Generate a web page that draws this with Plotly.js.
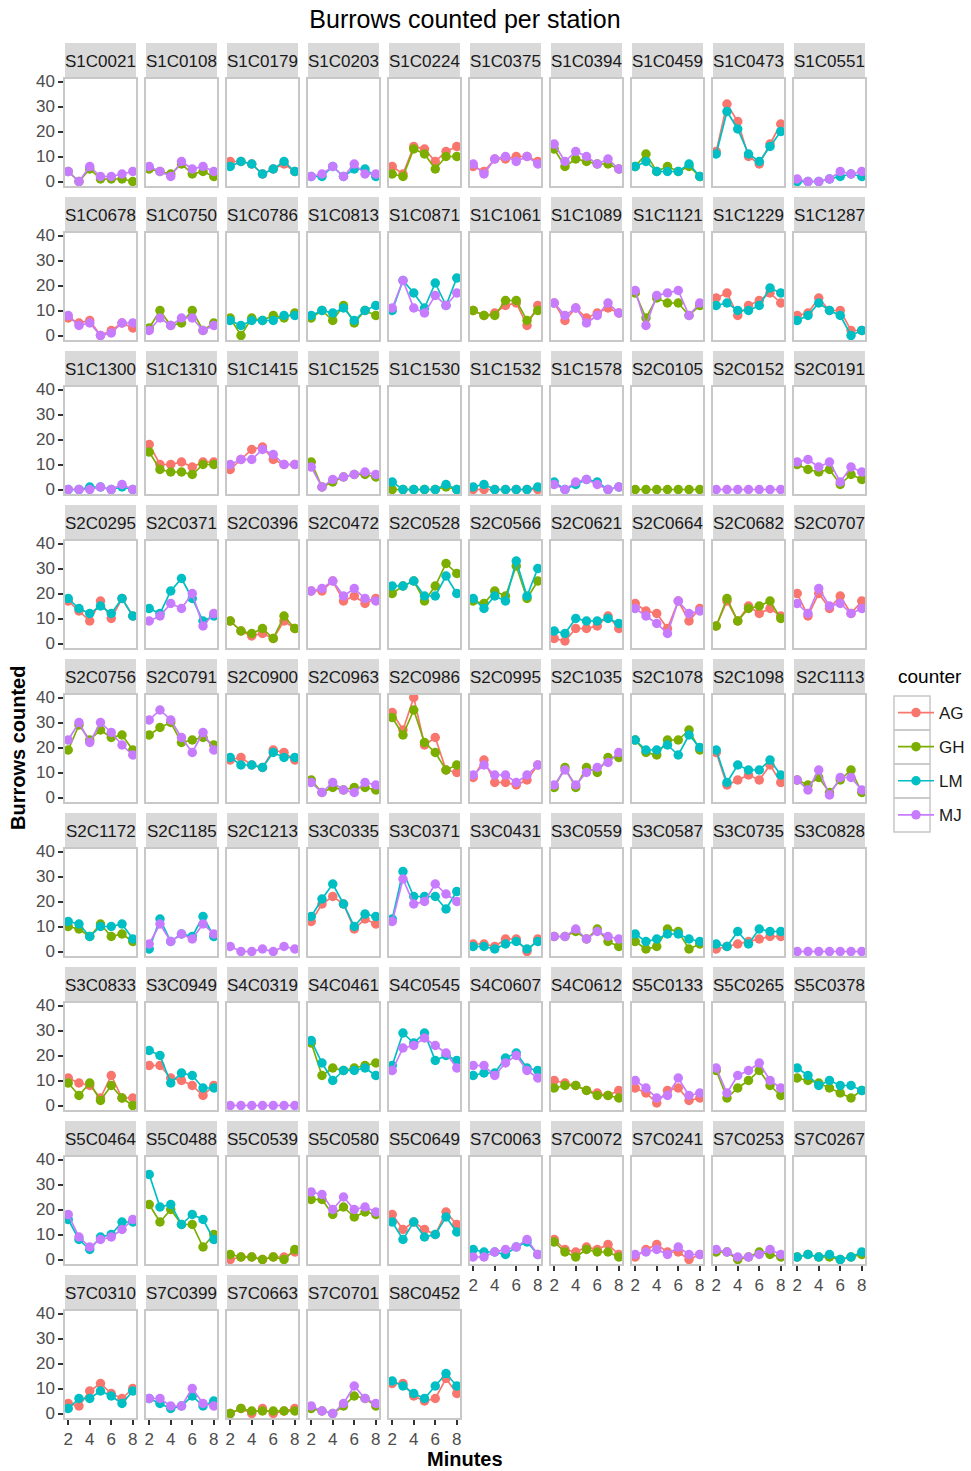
<!DOCTYPE html>
<html>
<head>
<meta charset="utf-8">
<script src="https://cdn.plot.ly/plotly-3.0.1.min.js"></script>
<style>html,body{margin:0;padding:0;background:#fff}#chart{width:971px;height:1471px}</style>
</head>
<body>
<div id="chart"></div>
<script>
const minutes = [2, 3, 4, 5, 6, 7, 8];
const counters = ['AG', 'GH', 'LM', 'MJ'];
const stations = [
  'S1C0021','S1C0108','S1C0179','S1C0203','S1C0224','S1C0375','S1C0394','S1C0459','S1C0473','S1C0551',
  'S1C0678','S1C0750','S1C0786','S1C0813','S1C0871','S1C1061','S1C1089','S1C1121','S1C1229','S1C1287',
  'S1C1300','S1C1310','S1C1415','S1C1525','S1C1530','S1C1532','S1C1578','S2C0105','S2C0152','S2C0191',
  'S2C0295','S2C0371','S2C0396','S2C0472','S2C0528','S2C0566','S2C0621','S2C0664','S2C0682','S2C0707',
  'S2C0756','S2C0791','S2C0900','S2C0963','S2C0986','S2C0995','S2C1035','S2C1078','S2C1098','S2C1113',
  'S2C1172','S2C1185','S2C1213','S3C0335','S3C0371','S3C0431','S3C0559','S3C0587','S3C0735','S3C0828',
  'S3C0833','S3C0949','S4C0319','S4C0461','S4C0545','S4C0607','S4C0612','S5C0133','S5C0265','S5C0378',
  'S5C0464','S5C0488','S5C0539','S5C0580','S5C0649','S7C0063','S7C0072','S7C0241','S7C0253','S7C0267',
  'S7C0310','S7C0399','S7C0663','S7C0701','S8C0452'
];

const AG = {
  S1C0179:[8,8,7,3,5,7,4], S1C0224:[6,3,14,13,8,12,14], S1C0375:[6,4,9,9,10,10,8],
  S1C0473:[12,31,24,10,7,15,23], S1C0678:[7,5,6,0,2,5,3], S1C1061:[10,8,9,12,13,4,12],
  S1C1089:[13,6,11,7,9,11,9], S1C1229:[15,17,8,12,14,17,13], S1C1287:[8,9,15,10,10,2,2],
  S1C1310:[18,10,10,11,9,11,11], S1C1415:[8,12,16,17,12,10,10], S1C1532:[0,0,0,0,0,0,0],
  S2C0295:[17,13,9,17,10,18,11], S2C0396:[9,5,3,4,2,9,6], S2C0472:[21,21,25,17,19,16,18],
  S2C0621:[2,1,6,6,7,11,6], S2C0664:[16,13,12,6,17,9,14], S2C0682:[7,17,9,15,12,14,11],
  S2C0707:[20,11,20,14,19,12,17], S2C0900:[15,16,13,12,19,18,15], S2C0986:[34,27,40,21,24,11,10],
  S2C0995:[8,15,6,6,5,7,13], S2C1098:[18,5,7,9,7,13,6], S3C0335:[12,19,22,19,9,13,11],
  S3C0431:[3,3,2,5,5,0,5], S3C0735:[1,2,3,4,5,6,6], S3C0833:[11,9,8,3,12,3,3],
  S3C0949:[16,16,11,10,8,4,8], S4C0612:[10,9,8,6,5,4,6], S5C0133:[7,5,1,6,7,2,3],
  S5C0539:[0,1,1,0,1,1,3], S5C0649:[18,12,15,12,10,19,14], S7C0072:[8,4,3,5,4,6,2],
  S7C0241:[1,4,6,3,3,0,2], S7C0310:[4,3,9,12,8,6,10], S7C0663:[0,2,0,2,0,1,2],
  S8C0452:[12,12,7,5,6,14,8]
};
const GH = {
  S1C0021:[4,0,5,1,1,1,0], S1C0108:[5,4,3,7,3,4,2], S1C0224:[3,2,13,11,5,10,10],
  S1C0394:[13,6,9,8,7,7,5], S1C0459:[6,11,4,6,4,6,2], S1C0750:[3,10,4,5,10,2,5],
  S1C0786:[7,0,7,6,8,7,9], S1C0813:[7,10,6,12,5,10,8], S1C1061:[10,8,8,14,14,6,10],
  S1C1121:[17,7,15,13,13,8,12], S1C1310:[15,8,7,7,6,10,10], S1C1525:[11,1,3,5,6,6,5],
  S1C1530:[0,0,0,0,0,1,0], S2C0105:[0,0,0,0,0,0,0], S2C0191:[10,8,7,8,2,6,4],
  S2C0396:[9,5,4,6,2,11,6], S2C0528:[20,23,25,17,23,32,28], S2C0566:[17,16,21,19,31,18,25],
  S2C0682:[7,18,9,14,15,17,10], S2C0756:[19,29,23,27,24,25,19], S2C0791:[25,28,30,22,23,24,21],
  S2C0963:[7,2,4,3,4,4,3], S2C0986:[32,25,35,22,18,11,13], S2C1035:[4,12,4,12,10,16,16],
  S2C1078:[23,18,17,23,23,27,19], S2C1113:[7,5,8,2,7,11,2], S2C1172:[10,9,6,11,6,7,4],
  S3C0559:[6,6,8,5,9,4,2], S3C0587:[4,1,2,9,8,1,3], S3C0833:[9,4,9,2,8,3,0],
  S4C0461:[25,12,15,14,15,16,17], S4C0612:[7,8,8,6,4,4,3], S5C0265:[14,3,7,10,14,8,4],
  S5C0378:[11,10,9,7,5,3,6], S5C0488:[22,15,20,14,14,5,10], S5C0539:[2,1,1,0,1,0,4],
  S5C0580:[24,24,18,21,17,19,18], S7C0072:[7,3,1,4,3,3,1], S7C0253:[3,3,0,1,3,2,1],
  S7C0267:[1,2,1,1,0,1,2], S7C0663:[0,2,1,1,1,1,1], S7C0701:[2,1,0,3,7,6,3]
};
const LM = {
  S1C0179:[6,8,7,3,5,8,4], S1C0203:[2,2,6,2,5,5,2], S1C0459:[6,8,4,4,4,7,2],
  S1C0473:[11,28,21,11,8,14,20], S1C0551:[0,0,0,1,2,3,2], S1C0786:[6,4,6,6,6,8,8],
  S1C0813:[8,10,9,11,6,10,12], S1C0871:[10,22,17,11,21,12,23], S1C1229:[12,13,10,10,12,19,17],
  S1C1287:[6,8,13,10,8,0,2], S1C1300:[0,0,1,1,0,1,0], S1C1530:[3,0,0,0,0,2,0],
  S1C1532:[1,2,0,0,0,0,1], S1C1578:[3,0,2,4,3,0,1], S2C0295:[18,14,12,15,12,18,11],
  S2C0371:[14,12,21,26,18,9,11], S2C0528:[23,23,25,19,19,27,20], S2C0566:[18,14,19,17,33,19,30],
  S2C0621:[5,4,10,9,9,10,8], S2C0900:[16,13,13,12,18,16,16], S2C1078:[23,19,19,21,17,25,20],
  S2C1098:[19,6,13,11,11,15,9], S2C1172:[12,11,6,10,10,11,5], S2C1185:[1,13,4,7,6,14,6],
  S3C0335:[14,21,27,19,10,15,14], S3C0371:[13,32,22,22,22,17,24], S3C0431:[2,2,1,3,4,1,4],
  S3C0587:[7,4,5,7,7,5,4], S3C0735:[3,2,8,3,9,8,8], S3C0949:[22,20,9,13,12,7,7],
  S4C0461:[26,17,10,14,14,15,12], S4C0545:[16,29,25,29,18,20,18], S4C0607:[12,13,13,19,21,15,14],
  S5C0378:[15,12,8,10,8,8,6], S5C0464:[16,8,4,9,10,15,15], S5C0488:[34,21,22,14,18,16,8],
  S5C0649:[15,8,15,9,10,17,11], S7C0063:[4,3,3,2,5,7,2], S7C0267:[1,2,1,2,0,1,3],
  S7C0310:[2,6,6,9,7,4,9], S7C0399:[6,4,2,3,7,3,5], S8C0452:[13,11,8,6,11,16,11]
};
const MJ = {
  S1C0021:[4,0,6,2,2,3,4], S1C0108:[6,4,2,8,5,6,4], S1C0203:[2,3,6,2,7,3,3],
  S1C0375:[7,3,9,10,8,10,7], S1C0394:[15,8,12,10,7,9,5], S1C0551:[1,0,0,1,4,3,4],
  S1C0678:[8,4,5,0,1,5,5], S1C0750:[2,7,4,7,7,2,4], S1C0871:[11,22,11,9,16,12,17],
  S1C1089:[13,8,11,5,8,13,9], S1C1121:[18,4,16,17,18,8,13], S1C1300:[0,0,0,1,0,2,0],
  S1C1415:[10,12,12,16,14,10,10], S1C1525:[9,1,4,5,6,7,6], S1C1578:[2,0,3,4,2,0,1],
  S2C0152:[0,0,0,0,0,0,0], S2C0191:[11,12,9,11,3,9,7], S2C0371:[9,11,16,14,20,7,12],
  S2C0472:[21,22,25,19,22,18,17], S2C0664:[14,11,8,4,17,12,13], S2C0707:[16,12,22,15,16,12,14],
  S2C0756:[23,30,22,30,26,21,17], S2C0791:[31,35,31,24,18,26,19], S2C0963:[6,2,6,3,2,6,5],
  S2C0995:[9,13,9,9,6,9,13], S2C1035:[5,11,5,10,12,14,18], S2C1113:[7,3,11,1,8,8,3],
  S2C1185:[3,11,4,7,5,11,7], S2C1213:[2,0,0,1,0,2,1], S3C0371:[12,29,19,20,27,23,20],
  S3C0559:[6,6,9,5,8,6,5], S3C0828:[0,0,0,0,0,0,0], S4C0319:[0,0,0,0,0,0,0],
  S4C0545:[14,23,24,27,24,21,15], S4C0607:[16,16,12,17,20,14,11], S5C0133:[10,7,3,4,11,4,5],
  S5C0265:[15,5,12,14,17,10,7], S5C0464:[18,9,5,8,9,12,16], S5C0580:[27,26,20,25,20,21,19],
  S7C0063:[1,1,3,4,5,8,2], S7C0241:[2,3,4,2,5,2,2], S7C0253:[4,3,1,1,2,4,2],
  S7C0399:[6,6,3,3,10,4,3], S7C0701:[3,1,0,4,11,6,4]
};
const seriesByCounter = {AG: AG, GH: GH, LM: LM, MJ: MJ};
const counterColors = {AG: '#F8766D', GH: '#7CAE00', LM: '#00BFC4', MJ: '#C77CFF'};
const xTicks = [2, 4, 6, 8];
const yTicks = [0, 10, 20, 30, 40];

// ---- layout geometry (pixels) ----
const W = 971, H = 1471;
const NCOL = 10;
const PANEL_LEFT = 65, PANEL_W = 71, COL_STEP = 81;
const PANEL_TOP = 79, PANEL_H = 107, ROW_STEP = 154, STRIP_H = 36;
const KEY_X0 = 894, KEY_X1 = 930, KEY_TOP = 696, KEY_H = 34;
const FONT = 'Liberation Sans, Arial, sans-serif';
const fx = p => p / W;
const fy = p => 1 - p / H;

const layout = {
  width: W, height: H,
  margin: {l: 0, r: 0, t: 0, b: 0, autoexpand: false},
  paper_bgcolor: '#ffffff', plot_bgcolor: '#ffffff',
  font: {family: FONT, color: '#000000'},
  showlegend: true,
  title: {text: 'Burrows counted per station', x: 465 / W, xanchor: 'center',
          y: 1 - 19 / H, yanchor: 'middle', font: {size: 25, color: '#000000', family: FONT}},
  legend: {x: 893 / W, xanchor: 'left', y: 1 - 695 / H, yanchor: 'top',
           font: {size: 17, color: '#1A1A1A', family: FONT},
           traceorder: 'grouped', tracegroupgap: 9, itemwidth: 36, bgcolor: 'rgba(0,0,0,0)'},
  shapes: [], annotations: []
};

const traces = [];
const shown = {};

stations.forEach((st, i) => {
  const r = Math.floor(i / NCOL), c = i % NCOL;
  const n = i + 1;
  const xk = n === 1 ? 'xaxis' : 'xaxis' + n;
  const yk = n === 1 ? 'yaxis' : 'yaxis' + n;
  const xr = n === 1 ? 'x' : 'x' + n;
  const yr = n === 1 ? 'y' : 'y' + n;
  const x0 = PANEL_LEFT + COL_STEP * c, x1 = x0 + PANEL_W;
  const yT = PANEL_TOP + ROW_STEP * r, yB = yT + PANEL_H;
  const bottom = (r === 8) || (r === 7 && c >= 5);
  const left = c === 0;

  layout[xk] = {
    domain: [fx(x0), fx(x1)], range: [1.7, 8.3], anchor: yr,
    showgrid: false, zeroline: false, showline: true, mirror: true,
    linecolor: '#C8C8C8', linewidth: 1.5,
    tickmode: 'array', tickvals: xTicks, ticktext: xTicks.map(String),
    ticks: bottom ? 'outside' : '', ticklen: 5, tickwidth: 2, tickcolor: '#333333',
    showticklabels: bottom, tickfont: {size: 17, color: '#4D4D4D', family: FONT},
    fixedrange: true
  };
  layout[yk] = {
    domain: [fy(yB), fy(yT)], range: [-1.8, 41], anchor: xr,
    showgrid: false, zeroline: false, showline: true, mirror: true,
    linecolor: '#C8C8C8', linewidth: 1.5,
    tickmode: 'array', tickvals: yTicks, ticktext: yTicks.map(String),
    ticks: left ? 'outside' : '', ticklen: 5, tickwidth: 2, tickcolor: '#333333',
    showticklabels: left, tickfont: {size: 17, color: '#4D4D4D', family: FONT},
    fixedrange: true
  };
  layout.shapes.push({type: 'rect', xref: 'paper', yref: 'paper',
    x0: fx(x0), x1: fx(x1), y0: fy(yT), y1: fy(yT - STRIP_H),
    fillcolor: '#D9D9D9', line: {width: 0}, layer: 'below'});
  layout.annotations.push({text: st, xref: 'paper', yref: 'paper',
    x: fx((x0 + x1) / 2), y: fy(yT - STRIP_H / 2), xanchor: 'center', yanchor: 'middle',
    showarrow: false, font: {size: 17, color: '#1A1A1A', family: FONT}});

  counters.forEach((cn, k) => {
    const vals = seriesByCounter[cn][st];
    if (!vals) return;
    traces.push({
      type: 'scatter', mode: 'lines+markers', x: minutes, y: vals,
      xaxis: xr, yaxis: yr, name: cn, legendgroup: cn, legendrank: k + 1,
      showlegend: !shown[cn],
      line: {color: counterColors[cn], width: 1.7},
      marker: {color: counterColors[cn], size: 9.5},
      hovertemplate: st + ' ' + cn + ': %{y}<extra></extra>'
    });
    shown[cn] = true;
  });
});

// legend key boxes (ggplot-style grey frames)
counters.forEach((cn, k) => {
  layout.shapes.push({type: 'rect', xref: 'paper', yref: 'paper',
    x0: fx(KEY_X0), x1: fx(KEY_X1), y0: fy(KEY_TOP + KEY_H * (k + 1)), y1: fy(KEY_TOP + KEY_H * k),
    fillcolor: 'rgba(0,0,0,0)', line: {color: '#C8C8C8', width: 1.5}, layer: 'below'});
});
layout.annotations.push({text: 'counter', xref: 'paper', yref: 'paper',
  x: fx(896), y: fy(676), xanchor: 'left', yanchor: 'middle', showarrow: false,
  font: {size: 19, color: '#000000', family: FONT}});

// axis titles
layout.annotations.push({text: '<b>Minutes</b>', xref: 'paper', yref: 'paper',
  x: fx(465), y: fy(1459), xanchor: 'center', yanchor: 'middle', showarrow: false,
  font: {size: 20, color: '#000000', family: FONT}});
layout.annotations.push({text: '<b>Burrows counted</b>', xref: 'paper', yref: 'paper',
  x: fx(18), y: fy(748), xanchor: 'center', yanchor: 'middle', textangle: -90, showarrow: false,
  font: {size: 20, color: '#000000', family: FONT}});

Plotly.newPlot('chart', traces, layout, {staticPlot: false, displayModeBar: false, responsive: false});
</script>
</body>
</html>
